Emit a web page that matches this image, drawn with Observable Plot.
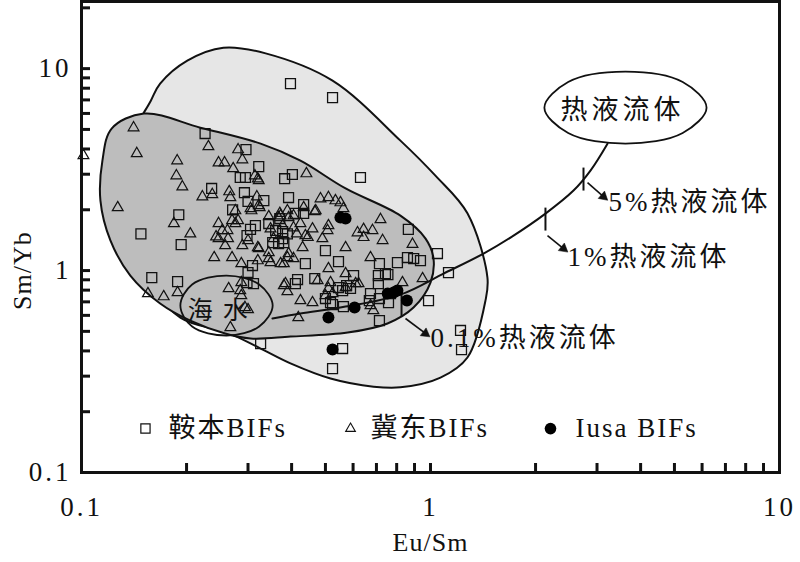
<!DOCTYPE html>
<html><head><meta charset="utf-8">
<script src="https://cdn.jsdelivr.net/npm/d3@7"></script>
<script src="https://cdn.jsdelivr.net/npm/@observablehq/plot@0.6"></script>
<style>html,body{margin:0;padding:0;background:#fff}svg{display:block}</style>
</head><body>
<script>
// ---- data: [Eu/Sm, Sm/Yb] ----
const anben = [[0.397,8.43],[0.524,7.18],[0.226,4.77],[0.296,3.97],[0.322,3.27],[0.285,2.89],[0.295,2.89],[0.382,2.85],[0.402,2.99],[0.630,2.89],[0.236,2.55],[0.293,2.43],[0.333,2.22],[0.392,2.30],[0.271,2.00],[0.300,2.20],[0.433,2.12],[0.410,1.92],[0.433,1.92],[0.190,1.89],[0.344,1.71],[0.370,1.81],[0.360,1.58],[0.377,1.56],[0.148,1.52],[0.305,1.60],[0.315,1.67],[0.298,1.49],[0.377,1.44],[0.389,1.52],[0.367,1.36],[0.193,1.345],[0.353,1.376],[0.380,1.376],[0.500,1.256],[0.545,1.108],[0.309,1.059],[0.300,0.978],[0.438,1.083],[0.410,0.862],[0.298,0.872],[0.311,0.862],[0.545,0.824],[0.560,0.796],[0.500,0.727],[0.517,0.694],[0.575,0.843],[0.590,0.815],[0.524,0.679],[0.563,0.663],[0.560,0.411],[0.524,0.327],[0.326,0.435],[0.159,0.923],[0.1885,0.882],[0.714,1.083],[0.804,1.095],[0.859,1.16],[0.895,1.147],[0.936,1.12],[0.602,0.945],[0.709,0.945],[0.755,0.955],[0.743,0.966],[0.709,0.862],[0.673,0.769],[0.668,0.710],[0.714,0.727],[0.768,0.769],[0.758,0.694],[1.047,1.214],[1.126,0.977],[0.987,0.710],[0.864,1.60],[0.714,0.565],[1.219,0.505],[1.227,0.406],[0.466,0.913],[0.416,0.903]];
const jidong = [[0.141,5.10],[0.144,3.80],[0.1013,3.71],[0.231,4.11],[0.281,3.97],[0.289,3.54],[0.188,3.50],[0.247,3.42],[0.257,3.42],[0.187,2.95],[0.272,3.20],[0.314,2.95],[0.320,2.85],[0.322,2.79],[0.441,3.02],[0.1945,2.60],[0.222,2.32],[0.237,2.38],[0.265,2.46],[0.267,2.30],[0.318,2.32],[0.322,2.10],[0.127,2.05],[0.184,1.71],[0.247,1.71],[0.205,1.52],[0.243,1.47],[0.276,1.98],[0.281,1.77],[0.305,2.03],[0.389,1.98],[0.372,1.87],[0.433,2.05],[0.469,1.98],[0.484,2.27],[0.510,2.30],[0.534,2.22],[0.552,2.17],[0.563,2.03],[0.344,1.85],[0.367,1.83],[0.377,1.67],[0.392,1.83],[0.276,1.71],[0.263,1.44],[0.247,1.44],[0.300,1.41],[0.355,1.44],[0.405,1.63],[0.424,1.71],[0.438,1.49],[0.490,1.44],[0.459,1.61],[0.510,1.67],[0.719,1.79],[0.618,1.54],[0.643,1.60],[0.643,1.46],[0.682,1.58],[0.729,1.41],[0.888,1.35],[0.571,1.30],[0.673,1.16],[0.949,0.913],[0.831,0.872],[0.610,0.862],[0.571,0.824],[0.673,0.671],[0.240,1.16],[0.270,1.16],[0.287,1.083],[0.320,1.12],[0.344,1.147],[0.372,1.083],[0.389,1.16],[0.405,1.147],[0.510,1.023],[0.258,1.33],[0.289,1.33],[0.320,1.30],[0.344,1.228],[0.392,1.214],[0.380,1.083],[0.430,1.30],[0.348,1.095],[0.571,0.966],[0.264,0.814],[0.287,0.872],[0.285,0.796],[0.287,0.752],[0.294,0.656],[0.384,0.862],[0.389,0.787],[0.424,0.710],[0.459,0.694],[0.475,0.892],[0.517,0.872],[0.510,0.815],[0.500,0.752],[0.418,0.585],[0.267,0.522],[0.155,0.769],[0.172,0.743],[0.1885,0.778],[0.380,0.843],[0.524,0.769],[0.622,0.862],[0.686,0.634],[0.300,0.641],[0.405,1.87],[0.466,1.96],[0.370,1.92],[0.507,1.58],[0.414,1.52],[0.445,1.46],[0.322,1.285],[0.262,1.58],[0.253,1.58],[0.270,1.77],[0.348,1.61],[0.307,1.98],[0.324,2.05]];
const iusa = [[0.552,1.83],[0.571,1.81],[0.754,0.769],[0.784,0.778],[0.804,0.796],[0.856,0.710],[0.606,0.656],[0.510,0.585],[0.524,0.406]];

// field outlines (closed curves), mixing curve
const lightField = [[0.138,4.40],[0.158,6.94],[0.168,8.43],[0.201,10.96],[0.255,12.7],[0.337,11.9],[0.524,8.72],[0.820,4.40],[1.033,2.95],[1.276,1.92],[1.456,0.923],[1.437,0.710],[1.276,0.371],[1.068,0.295],[0.820,0.264],[0.687,0.266],[0.517,0.292],[0.397,0.347],[0.326,0.411],[0.262,0.493],[0.192,0.585],[0.148,1.0],[0.1335,2.22]];
const darkField = [[0.151,5.99],[0.219,5.10],[0.326,4.25],[0.424,3.50],[0.571,2.55],[0.820,1.87],[0.968,1.44],[1.020,1.147],[1.0,0.872],[0.894,0.656],[0.753,0.547],[0.579,0.493],[0.397,0.471],[0.305,0.461],[0.258,0.488],[0.205,0.565],[0.168,0.687],[0.138,0.945],[0.121,1.41],[0.1133,2.22],[0.1148,3.50],[0.122,5.05]];
const seawater = [[0.353,0.671],[0.323,0.528],[0.2605,0.477],[0.2075,0.528],[0.192,0.671],[0.2075,0.853],[0.2605,0.945],[0.323,0.853]];
const hydrothermal = [[6.18,6.41],[5.28,4.80],[3.62,4.25],[2.48,4.80],[2.12,6.41],[2.48,8.58],[3.62,9.66],[5.28,8.58]];
const mixing = [[0.3525,0.579],[0.424,0.6125],[0.571,0.663],[0.820,0.760],[1.090,0.966],[1.419,1.214],[1.695,1.457],[2.135,1.915],[2.569,2.49],[2.873,3.127],[3.215,4.25]];
const mixTicks = [[0.826,0.778,0.826,0.592],[2.135,2.05,2.135,1.578],[2.744,3.236,2.744,2.49]];
const mixArrows = [[0.848,0.579,0.967,0.488],[2.164,1.49,2.405,1.285],[2.818,2.727,3.131,2.324]];
const arrowAngles = [127, 129, 131];
const mixLabels = [[1.0,0.461,"0.1%热液流体"],[2.47,1.16,"1%热液流体"],[3.236,2.17,"5%热液流体"]];
const legendNames = ["鞍本BIFs","冀东BIFs","Iusa BIFs"];

const xMinorTicks = [0.1,0.2,0.3,0.4,0.5,0.6,0.7,0.8,0.9,1,2,3,4,5,6,7,8,9,10];
const yMinorTicks = [0.1,0.2,0.3,0.4,0.5,0.6,0.7,0.8,0.9,1,2,3,4,5,6,7,8,9,10,20];
const xTickLabels = [0.1,1,10];
const yTickLabels = [0.1,1,10];

const serif = "'Liberation Serif','Times New Roman','Noto Sans CJK SC',serif";
const X = d => d[0], Y = d => d[1];

const chart = Plot.plot({
  width: 800, height: 562,
  marginLeft: 81, marginRight: 21, marginTop: 1, marginBottom: 90,
  style: {fontFamily: serif, background: "white", color: "#111"},
  x: {type: "log", domain: [0.1, 10]},
  y: {type: "log", domain: [0.1, 21.5]},
  marks: [
    Plot.line(lightField, {x: X, y: Y, curve: "catmull-rom-closed", fill: "#e6e6e6", stroke: "#111", strokeWidth: 2}),
    Plot.line(darkField, {x: X, y: Y, curve: "catmull-rom-closed", fill: "#bdbdbd", stroke: "#111", strokeWidth: 2}),
    Plot.line(mixing, {x: X, y: Y, curve: "catmull-rom", stroke: "#111", strokeWidth: 2}),
    Plot.line(seawater, {x: X, y: Y, curve: "catmull-rom-closed", fill: "none", stroke: "#111", strokeWidth: 1.8}),
    Plot.line(hydrothermal, {x: X, y: Y, curve: "catmull-rom-closed", fill: "white", stroke: "#111", strokeWidth: 1.8}),
    Plot.link(mixTicks, {x1: d => d[0], y1: d => d[1], x2: d => d[2], y2: d => d[3], stroke: "#111", strokeWidth: 2}),
    Plot.link(mixArrows, {x1: d => d[0], y1: d => d[1], x2: d => d[2], y2: d => d[3], stroke: "#111", strokeWidth: 1.6}),
    Plot.dot(mixArrows, {x: d => d[2], y: d => d[3], symbol: "triangle", r: 3.6, fill: "#111", stroke: "#111", strokeWidth: 0.5, rotate: (d, i) => arrowAngles[i]}),
    Plot.dot(anben, {x: X, y: Y, symbol: "square", r: 5.6, fill: "none", stroke: "#111", strokeWidth: 1.3}),
    Plot.dot(jidong, {x: X, y: Y, symbol: "triangle", r: 4, fill: "none", stroke: "#111", strokeWidth: 1.2}),
    Plot.dot(iusa, {x: X, y: Y, r: 6, fill: "#000", stroke: "none"}),
    Plot.text(mixLabels, {x: d => d[0], y: d => d[1], text: d => d[2], textAnchor: "start", fontSize: 27, fill: "#111"}),
    Plot.text(["热液流体"], {x: 3.55, y: 6.19, text: d => d, fontSize: 27, fill: "#111"}),
    Plot.text(["海水"], {x: 0.254, y: 0.634, text: d => d, fontSize: 25, fill: "#111"}),
    // legend
    Plot.dot([legendNames[0]], {x: 0.1525, y: 0.165, symbol: "square", r: 5.2, fill: "none", stroke: "#111", strokeWidth: 1.2}),
    Plot.dot([legendNames[1]], {x: 0.59, y: 0.165, symbol: "triangle", r: 3.6, fill: "none", stroke: "#111", strokeWidth: 1.1}),
    Plot.dot([legendNames[2]], {x: 2.207, y: 0.165, r: 5.8, fill: "#000"}),
    Plot.text(legendNames, {x: [0.1776, 0.673, 2.603], y: [0.165, 0.165, 0.165], text: d => d, textAnchor: "start", fontSize: 27, fill: "#111"}),
    // axes
    Plot.axisX(xMinorTicks, {tickSize: -9, strokeWidth: 3, tickFormat: () => "", label: null}),
    Plot.axisY(yMinorTicks, {tickSize: -9, strokeWidth: 3, tickFormat: () => "", label: null}),
    Plot.axisX(xTickLabels, {tickSize: 0, tickPadding: 24, fontSize: 27, tickFormat: d => String(d), label: null}),
    Plot.axisY(yTickLabels, {tickSize: 0, tickPadding: 10, fontSize: 27, tickFormat: d => String(d), label: null}),
    Plot.text(["Eu/Sm"], {frameAnchor: "bottom", dy: 78, text: d => d, fontSize: 26, fill: "#111"}),
    Plot.text(["Sm/Yb"], {x: 0.1, y: 1, dx: -59, rotate: -90, text: d => d, fontSize: 26, fill: "#111"}),
    Plot.frame({stroke: "#111", strokeWidth: 3})
  ]
});
document.body.appendChild(chart);
const spacing = {"0.1%热液流体": 3, "1%热液流体": 3, "5%热液流体": 3, "热液流体": 4, "海水": 10,
  "鞍本BIFs": 2, "冀东BIFs": 2, "Iusa BIFs": 2, "0.1": 3, "1": 3, "10": 3, "Eu/Sm": 1, "Sm/Yb": 1};
d3.select(chart).selectAll("text").each(function() {
  const t = this.textContent;
  if (spacing[t] != null) this.setAttribute("letter-spacing", spacing[t]);
});
</script>
</body></html>
